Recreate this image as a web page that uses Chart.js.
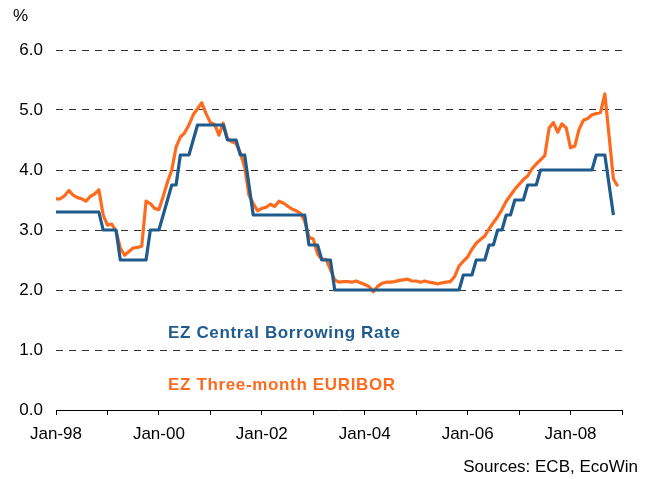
<!DOCTYPE html>
<html>
<head>
<meta charset="utf-8">
<script src="https://cdn.jsdelivr.net/npm/chart.js@4.4.1/dist/chart.umd.min.js"></script>
<style>
  html, body { margin: 0; padding: 0; background: #fff; }
  #wrap { width: 650px; height: 479px; }
</style>
</head>
<body>
<div id="wrap"><canvas id="chart" width="650" height="479"></canvas></div>
<script>
  // monthly values, index 0 = Jan-98
  const tickLabels = ['Jan-98', 'Jan-00', 'Jan-02', 'Jan-04', 'Jan-06', 'Jan-08'];
  const seriesNames = ['EZ Central Borrowing Rate', 'EZ Three-month EURIBOR'];

  const centralRate = [
    3.3, 3.3, 3.3, 3.3, 3.3, 3.3, 3.3, 3.3, 3.3, 3.3, 3.3, 3.0,
    3.0, 3.0, 3.0, 2.5, 2.5, 2.5, 2.5, 2.5, 2.5, 2.5, 3.0, 3.0,
    3.0, 3.25, 3.5, 3.75, 3.75, 4.25, 4.25, 4.25, 4.5, 4.75, 4.75, 4.75,
    4.75, 4.75, 4.75, 4.75, 4.5, 4.5, 4.5, 4.25, 4.25, 3.75, 3.25, 3.25,
    3.25, 3.25, 3.25, 3.25, 3.25, 3.25, 3.25, 3.25, 3.25, 3.25, 3.25, 2.75,
    2.75, 2.75, 2.5, 2.5, 2.5, 2.0, 2.0, 2.0, 2.0, 2.0, 2.0, 2.0,
    2.0, 2.0, 2.0, 2.0, 2.0, 2.0, 2.0, 2.0, 2.0, 2.0, 2.0, 2.0,
    2.0, 2.0, 2.0, 2.0, 2.0, 2.0, 2.0, 2.0, 2.0, 2.0, 2.0, 2.25,
    2.25, 2.25, 2.5, 2.5, 2.5, 2.75, 2.75, 3.0, 3.0, 3.25, 3.25, 3.5,
    3.5, 3.5, 3.75, 3.75, 3.75, 4.0, 4.0, 4.0, 4.0, 4.0, 4.0, 4.0,
    4.0, 4.0, 4.0, 4.0, 4.0, 4.0, 4.25, 4.25, 4.25, 3.75, 3.25
  ];

  const euribor3m = [
    3.52, 3.52, 3.57, 3.66, 3.58, 3.54, 3.52, 3.48, 3.56, 3.60, 3.67, 3.25,
    3.08, 3.10, 2.98, 2.70, 2.58, 2.64, 2.70, 2.71, 2.73, 3.48, 3.44, 3.36,
    3.34, 3.56, 3.80, 4.00, 4.38, 4.55, 4.62, 4.75, 4.92, 5.02, 5.12, 4.94,
    4.79, 4.76, 4.58, 4.78, 4.52, 4.47, 4.44, 4.28, 4.05, 3.58, 3.44, 3.32,
    3.36, 3.38, 3.43, 3.39, 3.48, 3.45, 3.40, 3.35, 3.32, 3.28, 3.15, 2.88,
    2.85, 2.60, 2.51, 2.51, 2.34, 2.17, 2.13, 2.14, 2.14, 2.13, 2.15, 2.12,
    2.09, 2.06, 1.97, 2.06, 2.11, 2.13, 2.13, 2.14, 2.16, 2.17, 2.18, 2.15,
    2.15, 2.13, 2.15, 2.13, 2.12, 2.10, 2.12, 2.13, 2.14, 2.23, 2.40, 2.48,
    2.55, 2.68, 2.78, 2.84, 2.90, 3.02, 3.12, 3.22, 3.34, 3.48, 3.58, 3.68,
    3.76, 3.84, 3.90, 4.02, 4.10, 4.17, 4.24, 4.70, 4.79, 4.63, 4.77, 4.70,
    4.37, 4.40, 4.68, 4.83, 4.86, 4.92, 4.94, 4.96, 5.27, 4.56, 3.85, 3.73
  ];

  const BLUE = '#1f5b8c';
  const ORANGE = '#ff6b1e';
  const FONT = 'Arial, "Liberation Sans", sans-serif';

  const toPoints = (arr) => arr.map((v, i) => ({ x: i, y: v }));

  const textLabels = {
    id: 'textLabels',
    afterDraw(chart) {
      const ctx = chart.ctx;
      ctx.save();
      ctx.textBaseline = 'middle';
      ctx.font = '17px ' + FONT;
      ctx.fillStyle = '#000';
      ctx.textAlign = 'left';
      ctx.fillText('%', 13, 16);
      ctx.textAlign = 'right';
      ctx.fillText('Sources: ECB, EcoWin', 638, 467);
      ctx.textAlign = 'left';
      ctx.font = 'bold 17px ' + FONT;
      ctx.letterSpacing = '0.65px';
      ctx.fillStyle = BLUE;
      ctx.fillText(seriesNames[0], 168, 333);
      ctx.fillStyle = ORANGE;
      ctx.fillText(seriesNames[1], 168, 385);
      ctx.restore();
    }
  };

  new Chart(document.getElementById('chart'), {
    type: 'line',
    data: {
      datasets: [
        {
          label: seriesNames[0],
          data: toPoints(centralRate),
          borderColor: BLUE,
          borderWidth: 3.2,
          pointRadius: 0,
          tension: 0,
          borderJoinStyle: 'round'
        },
        {
          label: seriesNames[1],
          data: toPoints(euribor3m),
          borderColor: ORANGE,
          borderWidth: 3.2,
          pointRadius: 0,
          tension: 0,
          borderJoinStyle: 'round'
        }
      ]
    },
    options: {
      responsive: false,
      animation: false,
      devicePixelRatio: 1,
      layout: { padding: { top: 50, right: 28, left: 0, bottom: 0 } },
      plugins: { legend: { display: false }, tooltip: { enabled: false } },
      scales: {
        x: {
          type: 'linear',
          min: 0,
          max: 132,
          afterFit: (s) => { s.height = 69; },
          ticks: {
            stepSize: 12,
            autoSkip: false,
            maxRotation: 0,
            minRotation: 0,
            padding: 9,
            color: '#000',
            font: { size: 17, family: FONT },
            callback: (v) => (v % 24 === 0 ? tickLabels[v / 24] : '')
          },
          grid: { drawOnChartArea: false, drawTicks: true, tickLength: 5, color: '#000' },
          border: { display: true, color: '#000', width: 1 }
        },
        y: {
          min: 0,
          max: 6,
          afterFit: (s) => { s.width = 56; },
          ticks: {
            stepSize: 1,
            padding: 13,
            color: '#000',
            font: { size: 17, family: FONT },
            callback: (v) => v.toFixed(1)
          },
          grid: {
            drawTicks: false,
            lineWidth: 1,
            color: (c) => (c.tick && c.tick.value === 0 ? 'rgba(0,0,0,0)' : '#333')
          },
          border: { display: false, dash: [7, 6] }
        }
      }
    },
    plugins: [textLabels]
  });
</script>
</body>
</html>
